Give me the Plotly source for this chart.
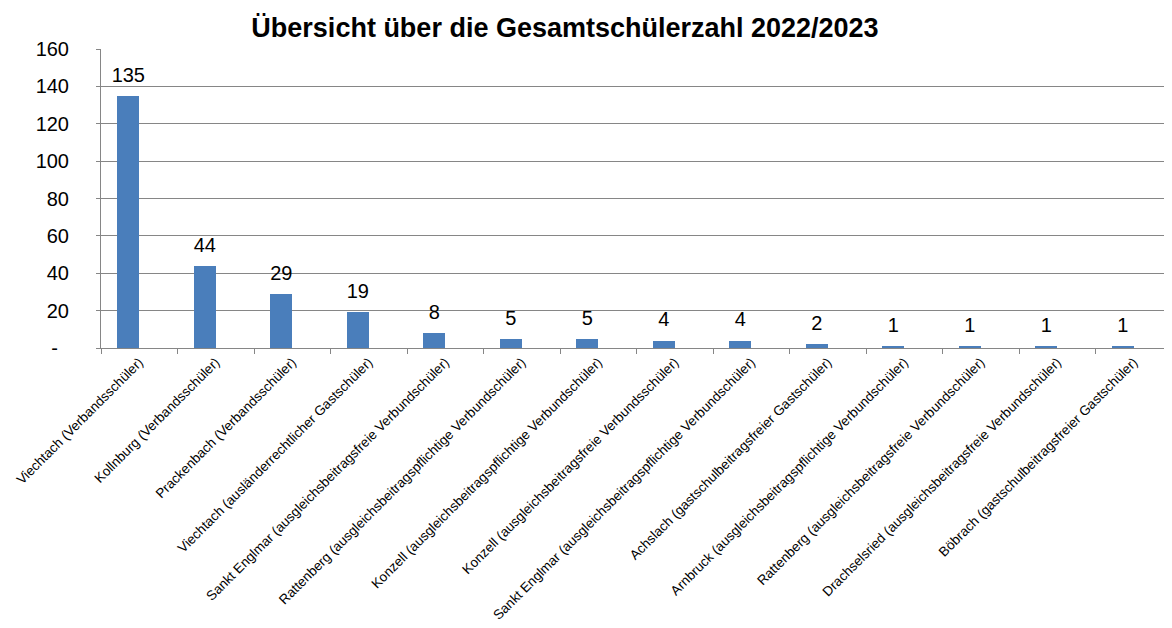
import plotly.graph_objects as go

categories = [
    "Viechtach (Verbandsschüler)",
    "Kollnburg (Verbandsschüler)",
    "Prackenbach (Verbandsschüler)",
    "Viechtach (ausländerrechtlicher Gastschüler)",
    "Sankt Englmar (ausgleichsbeitragsfreie Verbundschüler)",
    "Rattenberg (ausgleichsbeitragspflichtige Verbundschüler)",
    "Konzell (ausgleichsbeitragspflichtige Verbundschüler)",
    "Konzell (ausgleichsbeitragsfreie Verbundsschüler)",
    "Sankt Englmar (ausgleichsbeitragspflichtige Verbundschüler)",
    "Achslach (gastschulbeitragsfreier Gastschüler)",
    "Arnbruck (ausgleichsbeitragspflichtige Verbundschüler)",
    "Rattenberg (ausgleichsbeitragsfreie Verbundschüler)",
    "Drachselsried (ausgleichsbeitragsfreie Verbundschüler)",
    "Böbrach (gastschulbeitragsfreier Gastschüler)",
]
values = [135, 44, 29, 19, 8, 5, 5, 4, 4, 2, 1, 1, 1, 1]
y_tickvals = [0, 20, 40, 60, 80, 100, 120, 140, 160]
y_ticktext = ["-\u00a0\u00a0", "20", "40", "60", "80", "100", "120", "140", "160"]
title_text = "Übersicht über die Gesamtschülerzahl 2022/2023"

BAR_COLOR = "#4A7EBB"
GRID = "#868686"
FONT = "Liberation Sans, Arial, sans-serif"
BAR_W = 1 / 3.5
BAR_OFF = -BAR_W

# the page body adds an 8px margin, so the figure is drawn 8px smaller
W, H = 1164, 620

fig = go.Figure()
fig.add_trace(go.Bar(
    x=categories, y=values,
    width=BAR_W, offset=BAR_OFF,
    marker=dict(color=BAR_COLOR, line=dict(width=0)),
    hoverinfo="skip",
))
idx = list(range(len(values)))
fig.add_trace(go.Scatter(
    x=[i + BAR_OFF + BAR_W / 2 for i in idx], y=values,
    xaxis="x2",
    mode="markers+text",
    marker=dict(size=13, opacity=0),
    text=[str(v) for v in values],
    textposition="top center",
    textfont=dict(family=FONT, size=20, color="black"),
    cliponaxis=False,
    hoverinfo="skip",
    showlegend=False,
))

fig.update_layout(
    width=W, height=H,
    margin=dict(l=93, r=0, t=41, b=280, autoexpand=False),
    paper_bgcolor="white", plot_bgcolor="white",
    showlegend=False,
    bargap=0,
    title=dict(
        text=title_text,
        font=dict(family=FONT, size=27, color="black", weight="bold"),
        x=557 / W, xref="container", xanchor="center",
        y=1 - 20 / H, yref="container", yanchor="middle",
    ),
    xaxis=dict(
        type="category",
        range=[-0.5, len(categories) - 0.5],
        tickangle=-45,
        tickfont=dict(family=FONT, size=13.5, color="black"),
        ticks="outside", tickson="boundaries", ticklen=5,
        tickcolor=GRID, tickwidth=1,
        showline=True, linecolor=GRID, linewidth=1,
        showgrid=False, automargin=False,
    ),
    xaxis2=dict(
        overlaying="x", range=[-0.5, len(categories) - 0.5],
        visible=False, showgrid=False, zeroline=False,
    ),
    yaxis=dict(
        range=[0, 160],
        tickvals=y_tickvals, ticktext=y_ticktext,
        tickfont=dict(family=FONT, size=20, color="black"),
        ticks="outside", ticklen=4, tickcolor=GRID, tickwidth=1,
        ticklabelstandoff=23,
        showline=True, linecolor=GRID, linewidth=1,
        showgrid=True, gridcolor=GRID, gridwidth=1,
        zeroline=False, automargin=False,
    ),
)

fig.write_html("out.html")
